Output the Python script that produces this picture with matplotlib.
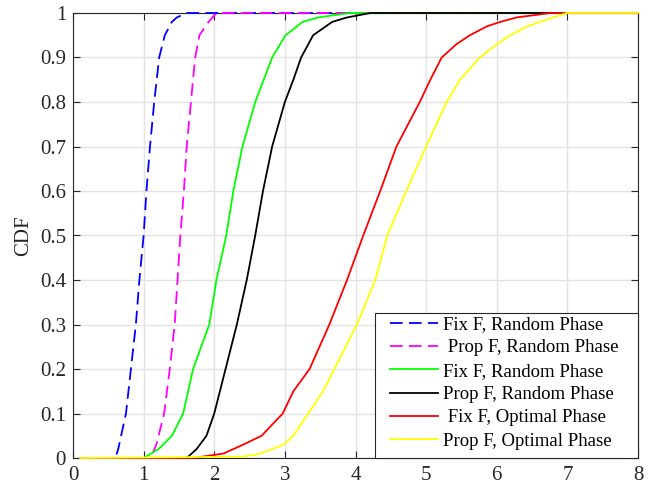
import matplotlib
matplotlib.use("Agg")
import matplotlib.pyplot as plt
from matplotlib.patches import Rectangle

plt.rcParams['font.family'] = ['Liberation Serif', 'DejaVu Serif']

# CDF curves (x value, cumulative probability)
fix_rand_dash_x = [0.1, 0.57, 0.62, 0.64, 0.75, 0.82, 0.89, 0.94, 1.00, 1.04, 1.09, 1.15, 1.22, 1.30, 1.40, 1.47, 1.61, 1.90, 8.0]
fix_rand_dash_y = [0.0, 0.0, 0.01, 0.02, 0.10, 0.20, 0.30, 0.40, 0.50, 0.60, 0.70, 0.80, 0.90, 0.95, 0.98, 0.99, 1.00, 1.00, 1.00]

prop_rand_dash_x = [0.1, 1.10, 1.18, 1.29, 1.37, 1.44, 1.48, 1.52, 1.57, 1.61, 1.67, 1.73, 1.79, 1.92, 2.03, 8.0]
prop_rand_dash_y = [0.0, 0.0, 0.03, 0.10, 0.20, 0.30, 0.40, 0.50, 0.60, 0.70, 0.80, 0.90, 0.95, 0.98, 1.00, 1.00]

fix_rand_x = [0.1, 1.00, 1.21, 1.40, 1.56, 1.70, 1.93, 2.03, 2.17, 2.27, 2.40, 2.58, 2.70, 2.82, 3.01, 3.25, 3.47, 3.92, 8.0]
fix_rand_y = [0.0, 0.0, 0.02, 0.05, 0.10, 0.20, 0.30, 0.40, 0.50, 0.60, 0.70, 0.80, 0.85, 0.90, 0.95, 0.98, 0.99, 1.00, 1.00]

prop_rand_x = [0.1, 1.61, 1.75, 1.89, 2.00, 2.16, 2.32, 2.46, 2.58, 2.69, 2.82, 3.00, 3.12, 3.23, 3.40, 3.67, 3.88, 4.21, 4.50, 8.0]
prop_rand_y = [0.0, 0.0, 0.02, 0.05, 0.10, 0.20, 0.30, 0.40, 0.50, 0.60, 0.70, 0.80, 0.85, 0.90, 0.95, 0.98, 0.99, 1.00, 1.00, 1.00]

fix_opt_x = [0.1, 1.70, 2.13, 2.41, 2.67, 2.97, 3.12, 3.35, 3.63, 3.88, 4.11, 4.35, 4.58, 4.91, 5.06, 5.22, 5.43, 5.62, 5.86, 6.05, 6.28, 6.76, 8.0]
fix_opt_y = [0.0, 0.0, 0.01, 0.03, 0.05, 0.10, 0.15, 0.20, 0.30, 0.40, 0.50, 0.60, 0.70, 0.80, 0.85, 0.90, 0.93, 0.95, 0.97, 0.98, 0.99, 1.00, 1.00]

prop_opt_x = [0.1, 2.41, 2.65, 2.98, 3.12, 3.33, 3.54, 3.70, 4.02, 4.28, 4.45, 4.72, 5.00, 5.29, 5.48, 5.76, 6.00, 6.19, 6.43, 6.61, 6.80, 6.99, 8.0]
prop_opt_y = [0.0, 0.003, 0.01, 0.03, 0.05, 0.10, 0.15, 0.20, 0.30, 0.40, 0.50, 0.60, 0.70, 0.80, 0.85, 0.90, 0.93, 0.95, 0.97, 0.98, 0.99, 1.00, 1.00]

labels = ["Fix F, Random Phase", " Prop F, Random Phase", "Fix F, Random Phase",
          "Prop F, Random Phase", " Fix F, Optimal Phase", "Prop F, Optimal Phase"]
x_ticks = [0, 1, 2, 3, 4, 5, 6, 7, 8]
y_ticks = [0, 0.1, 0.2, 0.3, 0.4, 0.5, 0.6, 0.7, 0.8, 0.9, 1]
y_tick_labels = ["0", "0.1", "0.2", "0.3", "0.4", "0.5", "0.6", "0.7", "0.8", "0.9", "1"]

W, H = 651, 486
fig = plt.figure(figsize=(W / 100, H / 100), dpi=100)
ax = fig.add_axes([73 / W, 28 / H, 565 / W, 445 / H])

lw = 1.3
kw = dict(lw=lw, zorder=3, clip_on=False)
ax.plot(fix_rand_dash_x, fix_rand_dash_y, color='#0000ff', dashes=(7, 3.5), label=labels[0], **kw)
ax.plot(prop_rand_dash_x, prop_rand_dash_y, color='#ff00ff', dashes=(7, 3.5), label=labels[1], **kw)
ax.plot(fix_rand_x, fix_rand_y, color='#00ff00', label=labels[2], **kw)
ax.plot(prop_rand_x, prop_rand_y, color='#000000', label=labels[3], **kw)
ax.plot(fix_opt_x, fix_opt_y, color='#ff0000', label=labels[4], **kw)
ax.plot(prop_opt_x, prop_opt_y, color='#ffff00', label=labels[5], **kw)

ax.set_xlim(0, 8)
ax.set_ylim(0, 1)
ax.set_xticks(x_ticks)
ax.set_yticks(y_ticks)
ax.set_yticklabels(y_tick_labels)
ax.grid(True, color='#e3e3e3', lw=1.0)
ax.set_axisbelow(True)
for s in ax.spines.values():
    s.set_color('#262626')
    s.set_linewidth(0.8)
ax.tick_params(direction='in', top=True, right=True, length=5, width=0.8,
               colors='#262626', labelsize=15, labelcolor='#262626')
ax.tick_params(axis='y', pad=5)
ax.tick_params(axis='x', pad=6)
ax.set_ylabel("CDF", fontsize=15, color='#262626', labelpad=5)

# legend box (MATLAB style: extra inner margin)
box = Rectangle(((375 - 73) / 565, 0), (638 - 375) / 565, (458 - 313) / 445,
                transform=ax.transAxes, facecolor='white', edgecolor='#262626',
                lw=0.8, zorder=4.9, clip_on=False)
ax.add_patch(box)
leg = ax.legend(loc='upper left', bbox_to_anchor=((390 - 73) / 565, (458 - 316) / 445),
                fontsize=13.5, frameon=False, borderaxespad=0, borderpad=0,
                handlelength=2.55, labelspacing=0.33, handletextpad=0.3)
leg.set_zorder(5)

fig.savefig("out.png", dpi=100)
